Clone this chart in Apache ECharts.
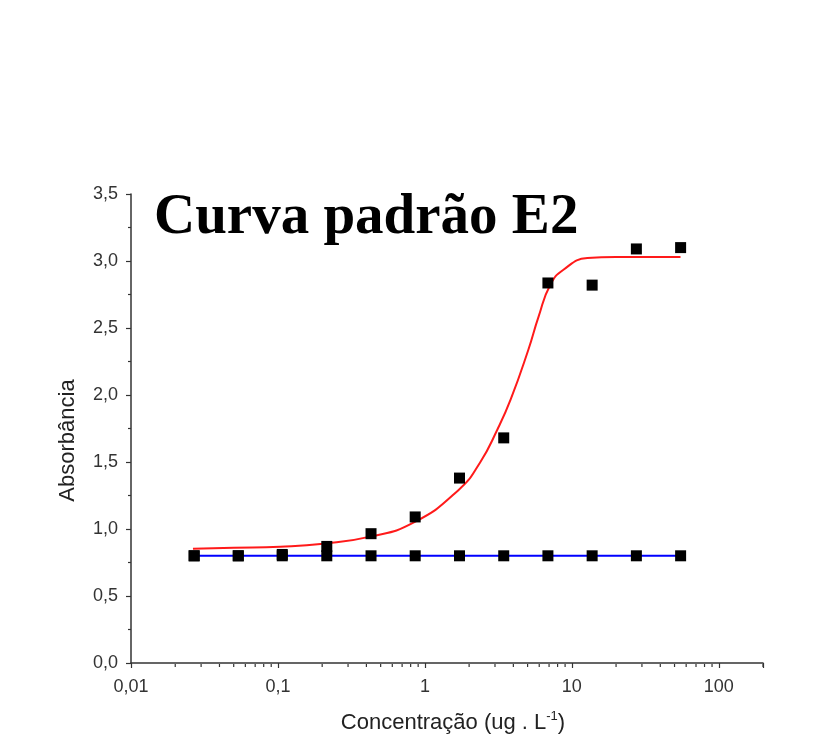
<!DOCTYPE html>
<html>
<head>
<meta charset="utf-8">
<script src="https://cdn.jsdelivr.net/npm/echarts@6/dist/echarts.min.js"></script>
<style>
html,body{margin:0;padding:0;background:#fff;}
#chart{width:828px;height:739px;}
</style>
</head>
<body>
<div id="chart"></div>
<script>
// ---- data ----
const concentration = [0.0269, 0.0537, 0.107, 0.215, 0.43, 0.859, 1.72, 3.44, 6.875, 13.75, 27.5, 55];
const absorbanceE2 = [0.80, 0.80, 0.81, 0.87, 0.965, 1.09, 1.38, 1.68, 2.836, 2.82, 3.09, 3.10];
const absorbanceBlank = [0.80, 0.80, 0.80, 0.80, 0.80, 0.80, 0.80, 0.80, 0.80, 0.80, 0.80, 0.80];
const fitX = [0.0264, 0.05, 0.1035, 0.203, 0.425, 0.835, 1.69, 2.37, 3.11, 3.83, 5.06, 5.94, 7.14, 8.77, 12.77, 20, 54.9];
const fitY = [0.853, 0.86, 0.868, 0.89, 0.943, 1.047, 1.29, 1.495, 1.741, 1.965, 2.338, 2.585, 2.823, 2.935, 3.022, 3.03, 3.03];
const xMajorTicks = [0.01, 0.1, 1, 10, 100];
const xTickLabels = ['0,01', '0,1', '1', '10', '100'];
const xMinorTicks = [];
[0.01, 0.1, 1, 10, 100].forEach(function (d) {
  for (let k = 2; k <= 9; k++) { if (d * k <= 200) xMinorTicks.push(+(d * k).toPrecision(3)); }
});
const titleText = 'Curva padrão E2';

const axisColor = '#333';
const sans = '"Liberation Sans", Arial, sans-serif';
const chart = echarts.init(document.getElementById('chart'));
const pairs = (xs, ys) => xs.map((x, i) => [x, ys[i]]);

chart.setOption({
  animation: false,
  backgroundColor: '#fff',
  grid: { left: 131, right: 65, top: 194, bottom: 76, containLabel: false },
  graphic: [{
    type: 'text', left: 154, top: 190,
    style: { text: titleText, font: 'bold 57px "Liberation Serif", "Times New Roman", serif', fill: '#000' }
  }],
  xAxis: {
    type: 'log', logBase: 10, min: 0.01, max: 200,
    splitLine: { show: false },
    axisLine: { lineStyle: { color: axisColor, width: 1.5 } },
    axisTick: { show: true, length: 5, inside: false, lineStyle: { color: axisColor, width: 1.2 } },
    axisLabel: {
      color: axisColor, fontSize: 18, fontFamily: sans, margin: 15,
      formatter: function (v) {
        for (let i = 0; i < xMajorTicks.length; i++) {
          if (Math.abs(Math.log10(v) - Math.log10(xMajorTicks[i])) < 1e-6) return xTickLabels[i];
        }
        return '';
      }
    },
    name: '{a|Concentração (ug . L}{s|-1}{a|)}',
    nameLocation: 'middle', nameGap: 47,
    nameTextStyle: {
      padding: [0, 0, 0, 12],
      rich: {
        a: { fontSize: 22, fontFamily: sans, color: '#222', lineHeight: 26 },
        s: { fontSize: 13, fontFamily: sans, color: '#222', lineHeight: 16, verticalAlign: 'top' }
      }
    }
  },
  yAxis: {
    type: 'value', min: 0, max: 3.5, interval: 0.5,
    splitLine: { show: false },
    axisLine: { show: true, lineStyle: { color: axisColor, width: 1.5 } },
    axisTick: { show: true, length: 5, inside: false, lineStyle: { color: axisColor, width: 1.2 } },
    minorTick: { show: true, splitNumber: 2, length: 3, lineStyle: { color: axisColor, width: 1.2 } },
    axisLabel: {
      color: axisColor, fontSize: 18, fontFamily: sans, margin: 13,
      formatter: v => v.toFixed(1).replace('.', ',')
    },
    name: 'Absorbância', nameLocation: 'middle', nameGap: 52,
    nameTextStyle: { fontSize: 22, fontFamily: sans, color: '#222', padding: [0, 24, 0, 0] }
  },
  series: [
    {
      name: 'minorX', type: 'scatter', silent: true, clip: false, z: 1,
      symbol: 'rect', symbolSize: [1.2, 3], symbolOffset: [0, 2.5],
      itemStyle: { color: axisColor, opacity: 1 },
      data: xMinorTicks.map(x => [x, 0])
    },
    {
      name: 'Branco', type: 'line', data: pairs(concentration, absorbanceBlank),
      showSymbol: false, lineStyle: { color: '#0000ff', width: 2 }, z: 2
    },
    {
      name: 'Ajuste', type: 'line', data: pairs(fitX, fitY), smooth: 0.5,
      showSymbol: false, lineStyle: { color: '#ff1a1a', width: 2 }, z: 3
    },
    {
      name: 'Branco pontos', type: 'scatter', data: pairs(concentration, absorbanceBlank),
      symbol: 'rect', symbolSize: 11, itemStyle: { color: '#000', opacity: 1 }, z: 4
    },
    {
      name: 'E2 pontos', type: 'scatter', data: pairs(concentration, absorbanceE2),
      symbol: 'rect', symbolSize: 11, itemStyle: { color: '#000', opacity: 1 }, z: 5
    }
  ]
});
</script>
</body>
</html>
